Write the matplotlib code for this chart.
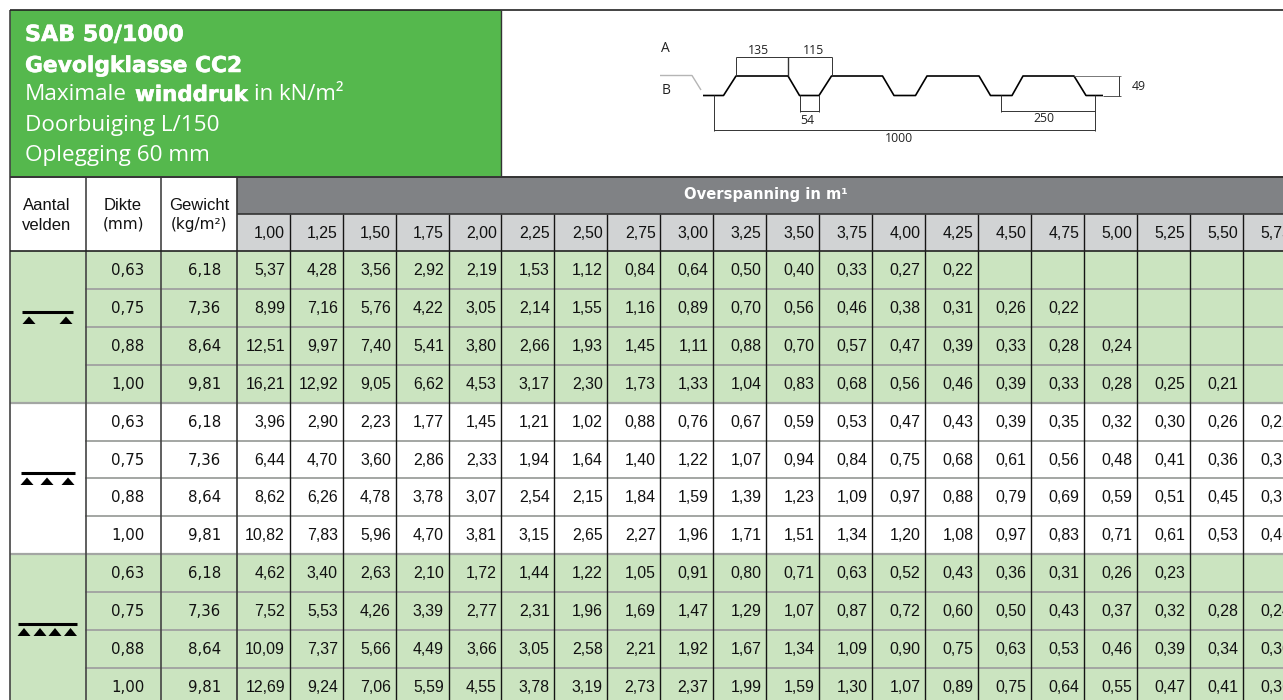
#!/usr/bin/env python3
import matplotlib
matplotlib.use("Agg")
import matplotlib.pyplot as plt
import matplotlib.patheffects as pe
from matplotlib.patches import Polygon, Rectangle

GREEN = "#55b84d"
PALE = "#cbe4c0"
GRAY = "#808285"
LIGHT = "#d1d3d4"
DARK = "#2a2a2a"
HLINE = "#a3a6a3"
FONT = "Liberation Sans"
WIDE = "DejaVu Sans"
LIGHTFONT = "Open Sans"

spans = ["1,00", "1,25", "1,50", "1,75", "2,00", "2,25", "2,50", "2,75", "3,00", "3,25",
         "3,50", "3,75", "4,00", "4,25", "4,50", "4,75", "5,00", "5,25", "5,50", "5,75"]
dikte = ["0,63", "0,75", "0,88", "1,00"]
gewicht = ["6,18", "7,36", "8,64", "9,81"]

# maximum wind pressure per thickness, one list per number of spans
velden_2 = [
    "5,37 4,28 3,56 2,92 2,19 1,53 1,12 0,84 0,64 0,50 0,40 0,33 0,27 0,22".split(),
    "8,99 7,16 5,76 4,22 3,05 2,14 1,55 1,16 0,89 0,70 0,56 0,46 0,38 0,31 0,26 0,22".split(),
    "12,51 9,97 7,40 5,41 3,80 2,66 1,93 1,45 1,11 0,88 0,70 0,57 0,47 0,39 0,33 0,28 0,24".split(),
    "16,21 12,92 9,05 6,62 4,53 3,17 2,30 1,73 1,33 1,04 0,83 0,68 0,56 0,46 0,39 0,33 0,28 0,25 0,21".split(),
]
velden_3 = [
    "3,96 2,90 2,23 1,77 1,45 1,21 1,02 0,88 0,76 0,67 0,59 0,53 0,47 0,43 0,39 0,35 0,32 0,30 0,26 0,22".split(),
    "6,44 4,70 3,60 2,86 2,33 1,94 1,64 1,40 1,22 1,07 0,94 0,84 0,75 0,68 0,61 0,56 0,48 0,41 0,36 0,31".split(),
    "8,62 6,26 4,78 3,78 3,07 2,54 2,15 1,84 1,59 1,39 1,23 1,09 0,97 0,88 0,79 0,69 0,59 0,51 0,45 0,39".split(),
    "10,82 7,83 5,96 4,70 3,81 3,15 2,65 2,27 1,96 1,71 1,51 1,34 1,20 1,08 0,97 0,83 0,71 0,61 0,53 0,46".split(),
]
velden_4 = [
    "4,62 3,40 2,63 2,10 1,72 1,44 1,22 1,05 0,91 0,80 0,71 0,63 0,52 0,43 0,36 0,31 0,26 0,23".split(),
    "7,52 5,53 4,26 3,39 2,77 2,31 1,96 1,69 1,47 1,29 1,07 0,87 0,72 0,60 0,50 0,43 0,37 0,32 0,28 0,24".split(),
    "10,09 7,37 5,66 4,49 3,66 3,05 2,58 2,21 1,92 1,67 1,34 1,09 0,90 0,75 0,63 0,53 0,46 0,39 0,34 0,30".split(),
    "12,69 9,24 7,06 5,59 4,55 3,78 3,19 2,73 2,37 1,99 1,59 1,30 1,07 0,89 0,75 0,64 0,55 0,47 0,41 0,36".split(),
]
groups = [velden_2, velden_3, velden_4]
group_fill = [PALE, "white", PALE]

# sheet profile outline in diagram coordinates
profile_x = [703, 723.5, 736, 788, 799.5, 819, 831.5, 882.5, 894, 915.5, 927, 979, 990.5, 1012, 1023, 1074, 1086, 1103]
profile_y = [95.5, 95.5, 76, 76, 95.5, 95.5, 76, 76, 95.5, 95.5, 76, 76, 95.5, 95.5, 76, 76, 95.5, 95.5]

fig = plt.figure(figsize=(12.83, 7), dpi=100)
ax = fig.add_axes([0, 0, 1, 1])
ax.set_xlim(0, 1283)
ax.set_ylim(700, 0)
ax.axis("off")


def rect(x0, y0, x1, y1, color, z=1):
    ax.add_patch(Rectangle((x0, y0), x1 - x0, y1 - y0, facecolor=color, edgecolor="none", zorder=z))


def line(xs, ys, color=DARK, lw=1.0, z=3):
    ax.plot(xs, ys, color=color, lw=lw, zorder=z, solid_capstyle="butt")


def label(x, y, s, size=11.4, ha="right", color="#111111", weight="normal", family=FONT):
    return ax.text(x, y, s, fontsize=size, ha=ha, va="center", color=color, weight=weight, family=family, zorder=5)


def heavy(x, y, s, size=15.7):
    t = label(x, y, s, size, "left", "white", "bold", WIDE)
    t.set_path_effects([pe.withStroke(linewidth=0.4, foreground="white")])


col0 = 236.7
step = 52.95
col_x = [col0 + step * i for i in range(21)]
row0 = 251.3
row_h = 37.85
row_y = [row0 + row_h * i for i in range(13)]

# title block
rect(10, 10, 501, 176, GREEN)
heavy(25, 35, "SAB 50/1000", 16)
heavy(25, 66, "Gevolgklasse CC2")
label(25, 95, "Maximale", 16.2, "left", "white", family=LIGHTFONT)
heavy(135, 95, "winddruk", 15.4)
label(254, 95, "in kN/m²", 16, "left", "white", family=LIGHTFONT)
label(25, 125, "Doorbuiging L/150", 16.2, "left", "white", family=LIGHTFONT)
label(25, 155, "Oplegging 60 mm", 16.2, "left", "white", family=LIGHTFONT)

# column headers
rect(col0, 177, 1283, 213.5, GRAY)
rect(col0, 213.5, 1283, row0, LIGHT)
label(766, 195, "Overspanning in m¹", 10.6, "center", "white", "bold", WIDE)
label(47, 205.5, "Aantal", 12, "center")
label(47, 225.5, "velden", 12, "center")
label(123, 206, "Dikte", 12, "center")
label(123, 224, "(mm)", 11, "center", family=WIDE)
label(199, 206, "Gewicht", 12, "center")
label(199, 224, "(kg/m²)", 11, "center", family=WIDE)
for i, s in enumerate(spans):
    label(col_x[i + 1] - 4.7, 233.5, s)

# table body
for g, rows in enumerate(groups):
    rect(10, row_y[g * 4], 1283, row_y[g * 4 + 4], group_fill[g])
    for r, values in enumerate(rows):
        y = row_y[g * 4 + r] + 19.5
        label(128, y, dikte[r], 10.8, "center", family=WIDE)
        label(221, y, gewicht[r], 10.8, family=WIDE)
        for c, v in enumerate(values):
            label(col_x[c + 1] - 4.7, y, v)

# grid
for y in row_y[1:]:
    line([85, 1283], [y, y], HLINE, 1.4, 2)
for y in row_y[4], row_y[8]:
    line([10, 1283], [y, y], HLINE, 1.6, 2)
for x in col_x[1:]:
    line([x, x], [213.5, 700], "#151515", 1.0)
line([col0, col0], [177, 700], "#333333", 1.2)
line([85.5, 85.5], [177, 700], "#444444", 1.2)
line([161, 161], [177, 700], "#444444", 1.2)
line([10, 10], [10, 700], "#444444", 1.2)
line([10, 1283], [10, 10], "#222222", 1.2)
line([10, 1283], [176.5, 176.5], "#333333", 1.4)
line([501.3, 501.3], [10, 176], "#333333", 1.0)
line([10, 1283], [row0, row0], "#222222", 1.2)
line([col0, 1283], [213.5, 213.5], "#333333", 1.2)


# support symbols
def supports(y_bar, x0, x1, centers, top=4.5):
    line([x0, x1], [y_bar, y_bar], "black", 2.2)
    for c in centers:
        ax.add_patch(Polygon([(c - 6.5, y_bar + 12), (c + 6.5, y_bar + 12), (c, y_bar + top)], facecolor="black", zorder=4))


supports(312, 22, 73, [29, 66])
supports(473, 21, 75, [27, 47, 68])
supports(624, 18, 77, [24, 40, 55, 70.5], 4)

# profile diagram
line([660, 692, 701], [75.5, 75.5, 90], "#b5b5b5", 1.0)
line(profile_x, profile_y, "black", 1.2)
thin = 0.7
line([736, 736], [57, 76], "#333333", thin)
line([788, 788], [57, 76], "#333333", 1.0)
line([831.5, 831.5], [57, 76], "#333333", thin)
line([736, 831.5], [57, 57], "#333333", thin)
line([800, 800], [95, 112], "#333333", thin)
line([818.5, 818.5], [95, 112], "#333333", thin)
line([800, 818.5], [111, 111], "#333333", thin)
line([713.5, 713.5], [95, 131], "#333333", thin)
line([1095, 1095], [95, 131], "#333333", thin)
line([1001, 1001], [95, 112], "#333333", thin)
line([1001, 1095], [111, 111], "#333333", thin)
line([713.5, 1095], [130, 130], "#333333", thin)
line([1074, 1121], [76, 76], "#777777", thin)
line([1103, 1121], [95.5, 95.5], "#555555", thin)
line([1119, 1119], [76, 95.5], "#333333", thin)
label(665.5, 49, "A", 10, "center", "#222222", family=LIGHTFONT)
label(666, 91, "B", 10, "center", "#222222", family=LIGHTFONT)
label(758, 51, "135", 8.8, "center", "#222222", family=LIGHTFONT)
label(813, 51, "115", 8.8, "center", "#222222", family=LIGHTFONT)
label(807, 120, "54", 8.8, "center", "#222222", family=LIGHTFONT)
label(1044, 118, "250", 8.8, "center", "#222222", family=LIGHTFONT)
label(899, 138, "1000", 8.8, "center", "#222222", family=LIGHTFONT)
label(1139, 86, "49", 8.8, "center", "#222222", family=LIGHTFONT)

fig.savefig("out.png", dpi=100)
